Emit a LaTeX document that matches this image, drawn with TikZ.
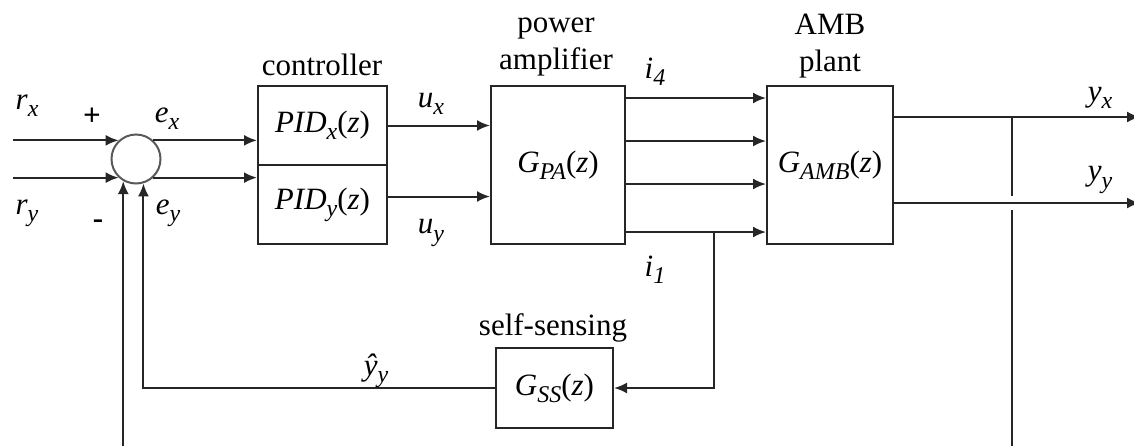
\documentclass[tikz,border=0pt]{standalone}
\usepackage{fontspec}
\setmainfont{Liberation Serif}
\usepackage{tikz}
\usetikzlibrary{arrows.meta, positioning, calc}
\newcommand{\sub}[1]{\raisebox{-0.5ex}{\fontsize{12}{12}\selectfont\textit{#1}}}
\newcommand{\sig}[2]{\textit{#1}\sub{#2}}
\newcommand{\tfz}[2]{\textit{#1}\sub{#2}(\textit{z})}

\begin{document}
\begin{tikzpicture}[
    x=0.5pt, y=-0.5pt,
    line width=1pt,
    >={Latex[length=6.5pt, width=5.5pt]},
    font=\fontsize{15.5}{18.5}\selectfont,
    blk/.style={draw=black!85, fill=white, inner sep=0pt},
    sumnode/.style={draw=black!65, circle, minimum size=24.5pt, inner sep=0pt},
    lbl/.style={inner sep=0pt, align=center},
    wire/.style={draw=black!85}
]
    \useasboundingbox (0,0) rectangle (1134,445);

    % blocks
    \node (sum) [sumnode] at (136,159) {};
    \node (pidx) [blk, minimum width=64.5pt, minimum height=39.5pt] at (322.5,125.5) {\tfz{PID}{x}};
    \node (pidy) [blk, minimum width=64.5pt, minimum height=39.5pt] at (322.5,204.5) {\tfz{PID}{y}};
    \node (pa) [blk, minimum width=67pt, minimum height=79pt] at (558,165) {\tfz{G}{PA}};
    \node (amb) [blk, minimum width=63pt, minimum height=79pt] at (830,165) {\tfz{G}{AMB}};
    \node (gss) [blk, minimum width=58.5pt, minimum height=40pt] at (554.5,388) {\tfz{G}{SS}};

    % block titles
    \node (ctrltxt) [lbl] at (322,65) {controller};
    \node (patxt) [lbl] at (556,47) {power\\amplifier};
    \node (ambtxt) [lbl] at (830,46) {AMB\\plant};
    \node (gsstxt) [lbl] at (553,328) {self-sensing};

    % helper coordinates
    \coordinate (rin) at (13,159);
    \coordinate (rend) at (1140,0);
    \coordinate (bot) at (0,452);
    \coordinate (vx) at (1012,0);
    \coordinate (tap) at ([yshift=-33.5pt]pa.east -| 714,0);
    \coordinate (yxout) at ([yshift=24pt]amb.east);
    \coordinate (yyout) at ([yshift=-19pt]amb.east);

    % references into the summing point
    \draw [->, wire] (sum.133 -| rin) -- (sum.133);
    \draw [->, wire] (sum.227 -| rin) -- (sum.227);
    \draw [->, wire] (sum.240 |- bot) -- (sum.240);

    % errors and control signals
    \draw [->, wire] (sum.47) -- (sum.47 -| pidx.west);
    \draw [->, wire] (sum.-47) -- (sum.-47 -| pidy.west);
    \draw [->, wire] (pidx.east) -- (pidx.east -| pa.west);
    \draw [->, wire] ([yshift=4pt]pidy.east) -- ([yshift=4pt]pidy.east -| pa.west);

    % coil currents
    \foreach \dy in {33.5, 12, -9.5, -33.5}
        \draw [->, wire] ([yshift=\dy pt]pa.east) -- ([yshift=\dy pt]pa.east -| amb.west);

    % self-sensing feedback
    \draw [->, wire] (tap) |- (gss.east);
    \draw [->, wire] (gss.west) -| (sum.287);

    % outputs
    \draw [->, wire] (yxout) -- (yxout -| rend);
    \draw [->, wire] (yyout) -- (yyout -| rend);
    \draw [wire] (yxout -| vx) -- ([yshift=3.5pt]yyout -| vx);
    \draw [wire] ([yshift=-3.5pt]yyout -| vx) -- (vx |- bot);

    % signal labels
    \node (rx) [lbl] at (27,106) {\sig{r}{x}};
    \node (ry) [lbl] at (27,213) {\sig{r}{y}};
    \node (plus) [lbl] at (92,117) {\textbf{+}};
    \node (minus) [lbl] at (98,224) {\textbf{-}};
    \node (ex) [lbl] at (167,119) {\sig{e}{x}};
    \node (ey) [lbl] at (168,213) {\sig{e}{y}};
    \node (ux) [lbl] at (431,104) {\sig{u}{x}};
    \node (uy) [lbl] at (431,233) {\sig{u}{y}};
    \node (i4) [lbl] at (655,72) {\sig{i}{4}};
    \node (i1) [lbl] at (655,270) {\sig{i}{1}};
    \node (yx) [lbl] at (1100,98) {\sig{y}{x}};
    \node (yy) [lbl] at (1100,180) {\sig{y}{y}};
    \node (yhat) [lbl] at (376,371) {\textit{\^{y}}\sub{y}};
\end{tikzpicture}
\end{document}
